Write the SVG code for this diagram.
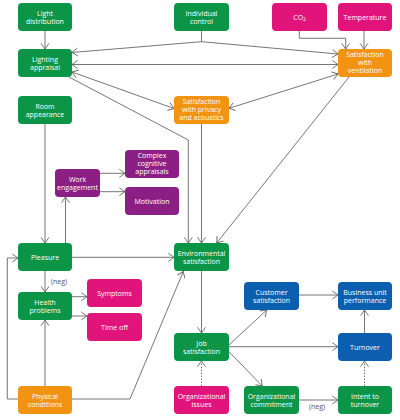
<svg xmlns="http://www.w3.org/2000/svg" width="400" height="420" viewBox="0 0 400 420">
<defs>
<marker id="ar" markerUnits="userSpaceOnUse" markerWidth="9" markerHeight="10" refX="6.5" refY="5" orient="auto-start-reverse">
<path d="M0.8,1 L6.5,5 L0.8,9" fill="none" stroke="#666" stroke-width="0.9"/>
</marker>
</defs>
<style>
.g{fill:#0c9447}.m{fill:#e1147b}.o{fill:#f29312}.p{fill:#8c1f84}.b{fill:#0b5fae}
rect{rx:4px}
text{font-family:"Open Sans","Liberation Sans",sans-serif;font-size:7px;font-weight:500;fill:#fff;text-anchor:middle}
.lbl{fill:#555;font-weight:400;text-anchor:start}
.c path{fill:none;stroke:#666;stroke-width:0.9}
.c .e{marker-end:url(#ar)}
.c .d{marker-end:url(#ar);marker-start:url(#ar)}
.c .dot{stroke-dasharray:1.5 1.5}
</style>
<rect width="400" height="420" fill="#fff"/>
<g class="c" id="connectors">
<path class="e" d="M45,31 V49"/>
<path class="e" d="M201.5,31 V41.7 L72,52.5"/>
<path class="e" d="M201.5,41.7 L338,54"/>
<path class="e" d="M299.3,31 V38.3 H345.7 V49"/>
<path class="e" d="M364,31 V49"/>
<path class="d" d="M72,64.5 H338"/>
<path class="d" d="M72,72 L174,108.5"/>
<path class="e" d="M69,77 L188.3,140 V243"/>
<path class="e" d="M201.5,123 V243"/>
<path class="d" d="M338,74 L229,108.3"/>
<path class="e" d="M349,77 L216.7,243"/>
<path class="e" d="M45,124 V243"/>
<path class="e" d="M65.5,243 V197"/>
<path class="e" d="M100,173.3 H125"/>
<path class="e" d="M100,191.7 H125"/>
<path class="e" d="M72,257.3 H174"/>
<path class="e" d="M45,271 V292"/>
<path class="e" d="M72,296.7 H87"/>
<path class="e" d="M72,316 H87"/>
<path class="e" d="M45,386 V320"/>
<path class="e" d="M18,399 H7.3 V258 H18"/>
<path class="e" d="M72,399 H130 L183.3,271.5"/>
<path class="e" d="M201.5,271 V333"/>
<path class="e dot" d="M201.5,386 V361"/>
<path class="e" d="M229,345 L266.7,310"/>
<path class="e" d="M229,346.7 H338"/>
<path class="e" d="M229,351.7 L262.3,386"/>
<path class="e" d="M299,295 H338"/>
<path class="e" d="M364.5,333 V310"/>
<path class="e" d="M299,400 H338"/>
<path class="e dot" d="M364.5,386 V361"/>
<text class="lbl" x="51" y="284">(neg)</text>
<text class="lbl" x="309" y="409">(neg)</text>
</g>
<g id="n_light_dist"><rect class="g" x="18" y="3" width="54" height="28"/><text x="45" y="15.5">Light</text><text x="45" y="23.5">distribution</text></g>
<g id="n_ind_control"><rect class="g" x="174" y="3" width="55" height="28"/><text x="201.5" y="15.5">Individual</text><text x="201.5" y="23.5">control</text></g>
<g id="n_co2"><rect class="m" x="272" y="3" width="55" height="28"/><text x="299.5" y="19.5">CO<tspan font-size="4.5" dy="1.5">2</tspan></text></g>
<g id="n_temp"><rect class="m" x="338" y="3" width="54" height="28"/><text x="365" y="19.5">Temperature</text></g>
<g id="n_lighting"><rect class="g" x="18" y="49" width="54" height="28"/><text x="45" y="61.5">Lighting</text><text x="45" y="69.5">appraisal</text></g>
<g id="n_ventilation"><rect class="o" x="338" y="49" width="54" height="28"/><text x="365" y="57.4">Satisfaction</text><text x="365" y="65.4">with</text><text x="365" y="73.4">ventilation</text></g>
<g id="n_room"><rect class="g" x="18" y="96" width="54" height="28"/><text x="45" y="108.5">Room</text><text x="45" y="116.5">appearance</text></g>
<g id="n_privacy"><rect class="o" x="174" y="96" width="55" height="28"/><text x="201.5" y="104.4">Satisfaction</text><text x="201.5" y="112.4">with privacy</text><text x="201.5" y="120.4">and acoustics</text></g>
<g id="n_complex"><rect class="p" x="125" y="150" width="54" height="28"/><text x="152" y="158.4">Complex</text><text x="152" y="166.4">cognitive</text><text x="152" y="174.4">appraisals</text></g>
<g id="n_work"><rect class="p" x="55" y="169" width="45" height="28"/><text x="77.5" y="181.5">Work</text><text x="77.5" y="189.5">engagement</text></g>
<g id="n_motivation"><rect class="p" x="125" y="187" width="54" height="28"/><text x="152" y="203.5">Motivation</text></g>
<g id="n_pleasure"><rect class="g" x="18" y="243" width="54" height="28"/><text x="45" y="259.5">Pleasure</text></g>
<g id="n_env"><rect class="g" x="174" y="243" width="55" height="28"/><text x="201.5" y="255.5">Environmental</text><text x="201.5" y="263.5">satisfaction</text></g>
<g id="n_symptoms"><rect class="m" x="87" y="279" width="55" height="28"/><text x="114.5" y="295.5">Symptoms</text></g>
<g id="n_health"><rect class="g" x="18" y="292" width="54" height="28"/><text x="45" y="304.5">Health</text><text x="45" y="312.5">problems</text></g>
<g id="n_timeoff"><rect class="m" x="87" y="313" width="55" height="28"/><text x="114.5" y="329.5">Time off</text></g>
<g id="n_customer"><rect class="b" x="244" y="282" width="55" height="28"/><text x="271.5" y="294.5">Customer</text><text x="271.5" y="302.5">satisfaction</text></g>
<g id="n_business"><rect class="b" x="338" y="282" width="54" height="28"/><text x="365" y="294.5">Business unit</text><text x="365" y="302.5">performance</text></g>
<g id="n_job"><rect class="g" x="174" y="333" width="55" height="28"/><text x="201.5" y="345.5">Job</text><text x="201.5" y="353.5">satisfaction</text></g>
<g id="n_turnover"><rect class="b" x="338" y="333" width="54" height="28"/><text x="365" y="349.5">Turnover</text></g>
<g id="n_physical"><rect class="o" x="18" y="386" width="54" height="28"/><text x="45" y="398.5">Physical</text><text x="45" y="406.5">conditions</text></g>
<g id="n_orgissues"><rect class="m" x="174" y="386" width="55" height="28"/><text x="201.5" y="398.5">Organizational</text><text x="201.5" y="406.5">issues</text></g>
<g id="n_orgcommit"><rect class="g" x="244" y="386" width="55" height="28"/><text x="271.5" y="398.5">Organizational</text><text x="271.5" y="406.5">commitment</text></g>
<g id="n_intent"><rect class="g" x="338" y="386" width="54" height="28"/><text x="365" y="398.5">Intent to</text><text x="365" y="406.5">turnover</text></g>
</svg>
